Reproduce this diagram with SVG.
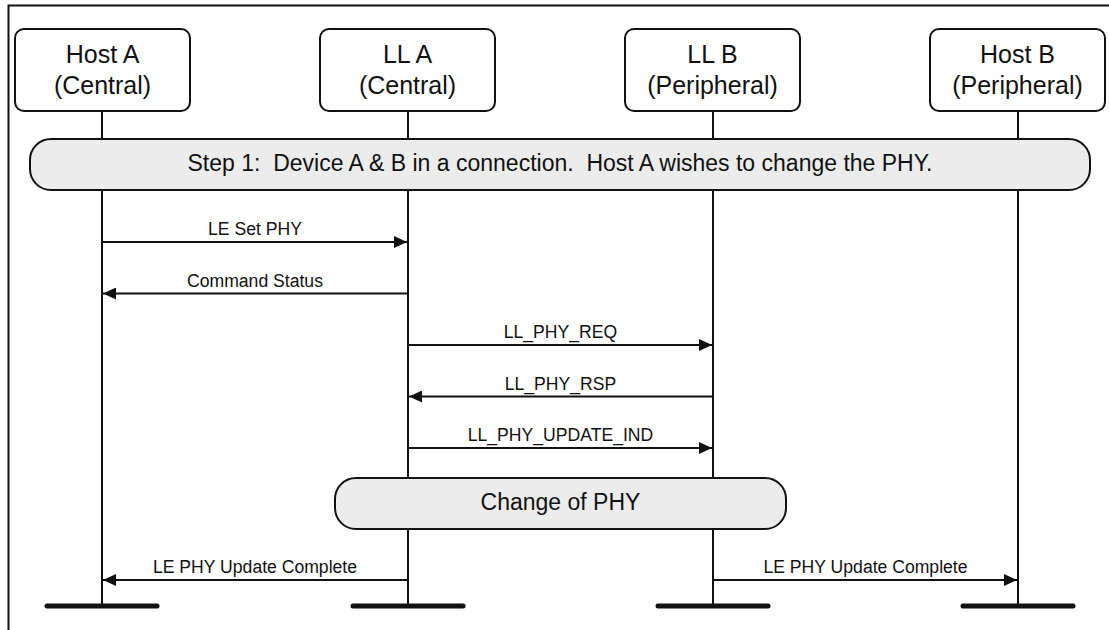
<svg xmlns="http://www.w3.org/2000/svg" width="1109" height="630" viewBox="0 0 1109 630">
<style>
text{font-family:"Liberation Sans",Arial,sans-serif;fill:#111;}
.hdr{font-size:25px;text-anchor:middle;}
.ban{font-size:23px;text-anchor:middle;white-space:pre;}
.lbl{font-size:17.6px;text-anchor:middle;}
.box{fill:#fff;stroke:#111;stroke-width:2;}
.band{fill:#ececec;stroke:#111;stroke-width:2;}
.life{stroke:#111;stroke-width:2;fill:none;}
.bar{stroke:#111;stroke-width:5;stroke-linecap:round;}
.msg{stroke:#111;stroke-width:2;fill:none;marker-end:url(#ah);}
</style>
<defs>
<marker id="ah" markerWidth="14" markerHeight="12" refX="13" refY="6" orient="auto" markerUnits="userSpaceOnUse">
<path d="M0,0 L13,6 L0,12 z" fill="#111"/>
</marker>
</defs>
<rect width="1109" height="630" fill="#fff"/>
<path d="M8.5,630 V5.5 H1109" fill="none" stroke="#111" stroke-width="2"/>
<g id="lifelines">
<line class="life" x1="102" y1="111" x2="102" y2="606"/>
<line class="life" x1="408" y1="111" x2="408" y2="606"/>
<line class="life" x1="713" y1="111" x2="713" y2="606"/>
<line class="life" x1="1018" y1="111" x2="1018" y2="606"/>
<line class="bar" x1="47" y1="606" x2="157" y2="606"/>
<line class="bar" x1="353" y1="606" x2="463" y2="606"/>
<line class="bar" x1="658" y1="606" x2="768" y2="606"/>
<line class="bar" x1="963" y1="606" x2="1073" y2="606"/>
</g>
<g id="hostA">
<rect class="box" x="15" y="29" width="175" height="82" rx="9"/>
<text class="hdr" x="102.5" y="63">Host A</text>
<text class="hdr" x="102.5" y="94">(Central)</text>
</g>
<g id="llA">
<rect class="box" x="320" y="29" width="175" height="82" rx="9"/>
<text class="hdr" x="407.5" y="63">LL A</text>
<text class="hdr" x="407.5" y="94">(Central)</text>
</g>
<g id="llB">
<rect class="box" x="625" y="29" width="175" height="82" rx="9"/>
<text class="hdr" x="712.5" y="63">LL B</text>
<text class="hdr" x="712.5" y="94">(Peripheral)</text>
</g>
<g id="hostB">
<rect class="box" x="930" y="29" width="175" height="82" rx="9"/>
<text class="hdr" x="1017.5" y="63">Host B</text>
<text class="hdr" x="1017.5" y="94">(Peripheral)</text>
</g>
<g id="step1">
<rect class="band" x="30" y="139" width="1060" height="51" rx="21"/>
<text class="ban" x="560" y="171" xml:space="preserve">Step 1:  Device A &amp; B in a connection.  Host A wishes to change the PHY.</text>
</g>
<g id="changePhy">
<rect class="band" x="335" y="478" width="451" height="51" rx="21"/>
<text class="ban" x="560.5" y="510">Change of PHY</text>
</g>
<g id="connectors">
<line class="msg" x1="102" y1="242" x2="407" y2="242"/>
<text class="lbl" x="255" y="235">LE Set PHY</text>
<line class="msg" x1="408" y1="293.5" x2="103" y2="293.5"/>
<text class="lbl" x="255" y="286.5">Command Status</text>
<line class="msg" x1="408" y1="345" x2="712" y2="345"/>
<text class="lbl" x="560.5" y="338">LL_PHY_REQ</text>
<line class="msg" x1="713" y1="396.5" x2="409" y2="396.5"/>
<text class="lbl" x="560.5" y="389.5">LL_PHY_RSP</text>
<line class="msg" x1="408" y1="448" x2="712" y2="448"/>
<text class="lbl" x="560.5" y="441">LL_PHY_UPDATE_IND</text>
<line class="msg" x1="408" y1="580" x2="103" y2="580"/>
<text class="lbl" x="255" y="573">LE PHY Update Complete</text>
<line class="msg" x1="713" y1="580" x2="1017" y2="580"/>
<text class="lbl" x="865.5" y="573">LE PHY Update Complete</text>
</g>
</svg>
